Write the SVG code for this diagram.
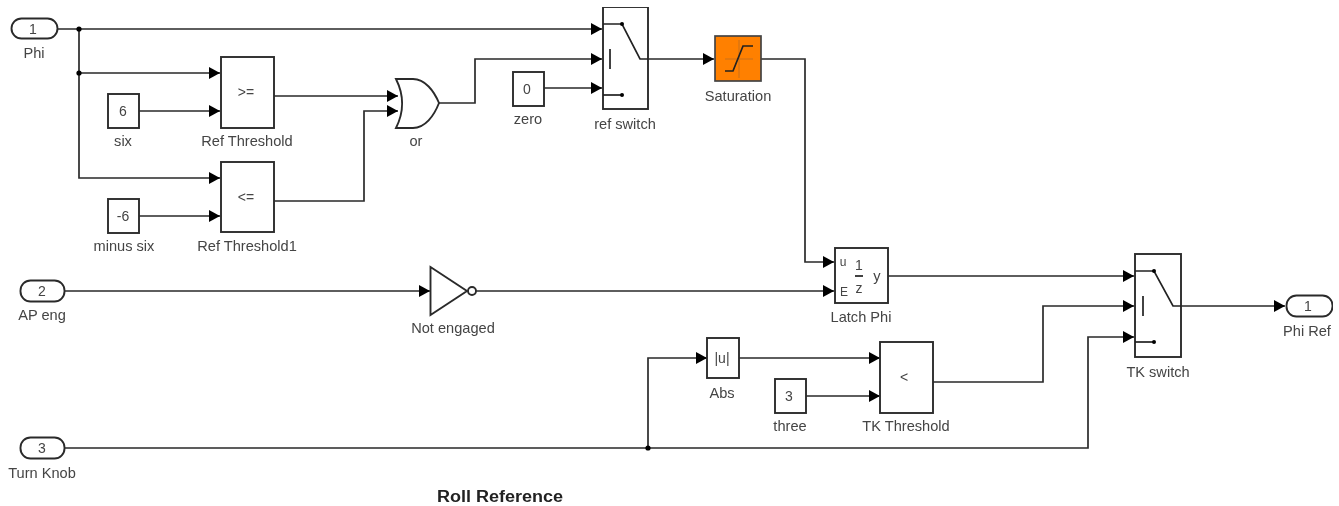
<svg xmlns="http://www.w3.org/2000/svg" width="1339" height="506" viewBox="0 0 1339 506">
<style>
.b{fill:#fff;stroke:#2a2a2a;stroke-width:1.9}
.s{fill:none;stroke:#222;stroke-width:1.7}
.c{fill:none;stroke:#2a2a2a;stroke-width:1.7}
text{font-family:"Liberation Sans",Arial,sans-serif;font-size:14.6px;fill:#444;text-anchor:middle}
.t{font-weight:bold;font-size:16px;fill:#222}
.v{font-size:14px}
</style>
<defs>
<marker id="a" markerUnits="userSpaceOnUse" markerWidth="11" markerHeight="12" refX="11" refY="6" orient="auto"><path d="M0 0L11 6L0 12Z" fill="#000"/></marker>
<filter id="f" x="0" y="0" width="1" height="1"><feGaussianBlur stdDeviation="0.55"/></filter>
</defs>
<rect width="1339" height="506" fill="#fff"/>
<g filter="url(#f)">
<g id="connectors">
<path class="c" d="M57 29H602" marker-end="url(#a)"/>
<path class="c" d="M79 29V73H220" marker-end="url(#a)"/>
<path class="c" d="M79 73V178H220" marker-end="url(#a)"/>
<path class="c" d="M139 111H220" marker-end="url(#a)"/>
<path class="c" d="M139 216H220" marker-end="url(#a)"/>
<path class="c" d="M274 96H398" marker-end="url(#a)"/>
<path class="c" d="M274 201H364V111H398" marker-end="url(#a)"/>
<path class="c" d="M439 103H475V59H602" marker-end="url(#a)"/>
<path class="c" d="M544 88H602" marker-end="url(#a)"/>
<path class="c" d="M648 59H714" marker-end="url(#a)"/>
<path class="c" d="M761 59H805V262H834" marker-end="url(#a)"/>
<path class="c" d="M65 291H430" marker-end="url(#a)"/>
<path class="c" d="M476 291H834" marker-end="url(#a)"/>
<path class="c" d="M888 276H1134" marker-end="url(#a)"/>
<path class="c" d="M65 448H1088V337H1134" marker-end="url(#a)"/>
<path class="c" d="M648 448V358H707" marker-end="url(#a)"/>
<path class="c" d="M739 358H880" marker-end="url(#a)"/>
<path class="c" d="M806 396H880" marker-end="url(#a)"/>
<path class="c" d="M933 382H1043V306H1134" marker-end="url(#a)"/>
<path class="c" d="M1181 306H1285" marker-end="url(#a)"/>
<circle cx="79" cy="29" r="2.6" fill="#000"/>
<circle cx="79" cy="73" r="2.6" fill="#000"/>
<circle cx="648" cy="448" r="2.6" fill="#000"/>
</g>
<g id="phi"><rect class="b" x="11.500" y="18.500" width="46" height="20" rx="10"/><text class="v" x="33" y="34">1</text><text x="34" y="58">Phi</text></g>
<g id="ap-eng"><rect class="b" x="20.500" y="280.500" width="44" height="21" rx="10"/><text class="v" x="42" y="296">2</text><text x="42" y="320">AP eng</text></g>
<g id="turn-knob"><rect class="b" x="20.500" y="437.500" width="44" height="21" rx="10"/><text class="v" x="42" y="453">3</text><text x="42" y="478">Turn Knob</text></g>
<g id="ref-threshold"><rect class="b" x="221" y="57" width="53" height="71"/><text class="v" x="246" y="97">&gt;=</text><text x="247" y="146">Ref Threshold</text></g>
<g id="ref-threshold1"><rect class="b" x="221" y="162" width="53" height="70"/><text class="v" x="246" y="202">&lt;=</text><text x="247" y="251">Ref Threshold1</text></g>
<g id="six"><rect class="b" x="108" y="94" width="31" height="34"/><text class="v" x="123" y="116">6</text><text x="123" y="146">six</text></g>
<g id="minus-six"><rect class="b" x="108" y="199" width="31" height="34"/><text class="v" x="123" y="221">-6</text><text x="124" y="251">minus six</text></g>
<g id="or"><path class="b" d="M396 79H413C425 79 434 91 439 103C434 116 425 128 413 128H396C404 112 404 95 396 79Z"/><text x="416" y="146">or</text></g>
<g id="zero"><rect class="b" x="513" y="72" width="31" height="34"/><text class="v" x="527" y="94">0</text><text x="528" y="124">zero</text></g>
<g id="ref-switch"><rect class="b" x="603" y="7" width="45" height="102"/>
<path class="s" d="M603 24H622L640 59H648"/><circle cx="622" cy="24" r="2" fill="#000"/><path class="s" d="M610 49V69"/><path class="s" d="M603 95H622"/><circle cx="622" cy="95" r="2" fill="#000"/>
<text x="625" y="129">ref switch</text></g>
<g id="saturation"><rect x="715" y="36" width="46" height="45" fill="#ff8000" stroke="#444" stroke-width="1.7"/>
<path d="M725 59H753M739 40V78" fill="none" stroke="#c9701a" stroke-width="1"/><path d="M725 71H733L743 46H753" fill="none" stroke="#222" stroke-width="1.7"/>
<text x="738" y="101">Saturation</text></g>
<g id="not-engaged"><path class="b" d="M430.500 267L467 291L430.500 315Z"/><circle class="b" cx="472" cy="291" r="4"/><text x="453" y="333">Not engaged</text></g>
<g id="latch-phi"><rect class="b" x="835" y="248" width="53" height="55"/>
<text x="843" y="266" style="font-size:12px">u</text><text x="844" y="296" style="font-size:12px">E</text><text class="v" x="859" y="270">1</text><path class="s" d="M855 276H863"/><text class="v" x="859" y="293">z</text><text x="877" y="281">y</text>
<text x="861" y="322">Latch Phi</text></g>
<g id="abs"><rect class="b" x="707" y="338" width="32" height="40"/><text class="v" x="722" y="363">|u|</text><text x="722" y="398">Abs</text></g>
<g id="three"><rect class="b" x="775" y="379" width="31" height="34"/><text class="v" x="789" y="401">3</text><text x="790" y="431">three</text></g>
<g id="tk-threshold"><rect class="b" x="880" y="342" width="53" height="71"/><text class="v" x="904" y="382">&lt;</text><text x="906" y="431">TK Threshold</text></g>
<g id="tk-switch"><rect class="b" x="1135" y="254" width="46" height="103"/>
<path class="s" d="M1135 271H1154L1173 306H1181"/><circle cx="1154" cy="271" r="2" fill="#000"/><path class="s" d="M1143 296V316"/><path class="s" d="M1135 342H1154"/><circle cx="1154" cy="342" r="2" fill="#000"/>
<text x="1158" y="377">TK switch</text></g>
<g id="phi-ref"><rect class="b" x="1286.500" y="295.500" width="46" height="21" rx="10"/><text class="v" x="1308" y="311">1</text><text x="1307" y="336">Phi Ref</text></g>
<text class="t" x="500" y="502" textLength="126" lengthAdjust="spacingAndGlyphs">Roll Reference</text>
</g>
</svg>
